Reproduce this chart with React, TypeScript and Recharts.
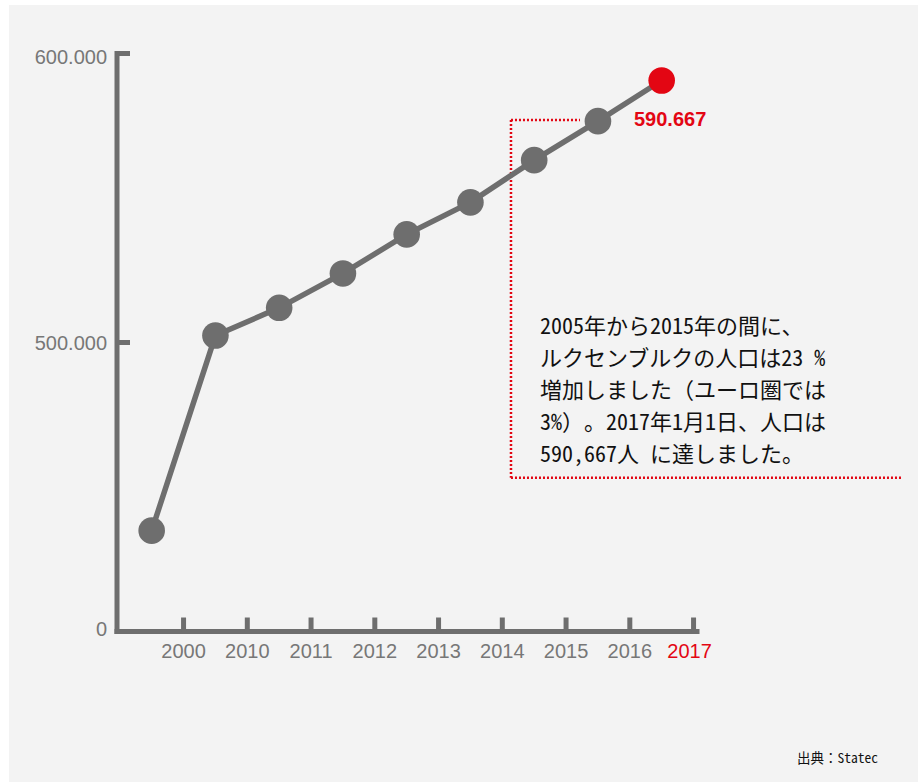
import { Line, LineChart, ReferenceLine, XAxis, YAxis } from "recharts";

// 人口（ルクセンブルク）、各年1月1日
const years = ["2000", "2010", "2011", "2012", "2013", "2014", "2015", "2016", "2017"];
const population = [434900, 502400, 512000, 523900, 537400, 548500, 563100, 576600, 590667];

// y axis is broken: the bottom tick is labelled 0
const yTicks = [400000, 500000, 600000];
const yTickLabels = ["0", "500.000", "600.000"];

// annotation frame (index units / population units)
const frameLeft = 5.636;
const frameTopY = 577000;
const frameTopRight = 6.718;
const frameBottomY = 453200;
const frameBottomRight = 11.77;

const note = [
  "2005年から2015年の間に、",
  "ルクセンブルクの人口は23 %",
  "増加しました（ユーロ圏では",
  "3%）。2017年1月1日、人口は",
  "590,667人 に達しました。",
];
const source = "出典：Statec";

const data = years.map((year, i) => ({ idx: i, year, population: population[i] }));
const xTicks = years.map((_, i) => i + 0.5);

const GRAY = "#6e6e6e";
const LABEL = "#777777";
const RED = "#e30613";
const FONT = "'Liberation Sans', Arial, sans-serif";

const fmt = (v: number) => v.toLocaleString("de-DE");

// ASCII runs get half-width (monospaced) forms, CJK stays full width
function Mono({ text }: { text: string }) {
  const parts = text.match(/[\x20-\x7e]+|[^\x20-\x7e]+/g) || [];
  return (
    <>
      {parts.map((p, i) =>
        /^[\x20-\x7e]/.test(p) ? (
          <span key={i} style={{ fontFeatureSettings: '"hwid"' }}>
            {p}
          </span>
        ) : (
          <span key={i}>{p}</span>
        )
      )}
    </>
  );
}

function XTick(props: any) {
  const { x, y, payload, index } = props;
  const label = years[index] ?? years[Math.round(payload.value - 0.5)];
  const last = label === years[years.length - 1];
  return (
    <g>
      <line x1={x} x2={x} y1={y - 14} y2={y} stroke={GRAY} strokeWidth={5} />
      <text
        x={last ? x - 4 : x}
        y={y + 26}
        textAnchor="middle"
        fontSize={20}
        fontFamily={FONT}
        fill={last ? RED : LABEL}
      >
        {label}
      </text>
    </g>
  );
}

const yLabelShift = [4.5, 7.5, 10.5];

function YTick(props: any) {
  const { x, y, payload } = props;
  const i = yTicks.indexOf(payload.value);
  return (
    <g>
      {i > 0 && <line x1={x} x2={x + 13} y1={y} y2={y} stroke={GRAY} strokeWidth={5} />}
      <text
        x={x - 10}
        y={y + yLabelShift[i]}
        textAnchor="end"
        fontSize={20}
        fontFamily={FONT}
        fill={LABEL}
      >
        {yTickLabels[i]}
      </text>
    </g>
  );
}

function Dot(props: any) {
  const { cx, cy, index, payload } = props;
  const last = index === data.length - 1;
  return (
    <g key={`dot-${index}`}>
      <circle cx={cx} cy={cy} r={13.3} fill={last ? RED : GRAY} />
      {last && (
        <text
          x={cx - 27.7}
          y={cy + 46}
          fontSize={20}
          fontWeight="bold"
          fontFamily={FONT}
          fill={RED}
        >
          {fmt(payload.population)}
        </text>
      )}
    </g>
  );
}

const dotted = { stroke: RED, strokeWidth: 2.5, strokeDasharray: "2 2" };

export default function App() {
  return (
    <div style={{ position: "absolute", left: 0, top: 0, width: 919, height: 782 }}>
      <div
        style={{
          position: "absolute",
          left: 9,
          top: 5,
          width: 909,
          height: 777,
          background: "#f3f3f3",
        }}
      />
      <div style={{ position: "absolute", left: 0, top: 0 }}>
        <LineChart
          width={919}
          height={782}
          data={data}
          margin={{ top: 53.5, right: 222, left: 57, bottom: 120.5 }}
        >
          <XAxis
            dataKey="idx"
            type="number"
            domain={[-0.544, 8.554]}
            ticks={xTicks}
            interval={0}
            height={30}
            tickSize={0}
            tickMargin={0}
            tickLine={false}
            axisLine={{ stroke: GRAY, strokeWidth: 5, strokeLinecap: "square" }}
            tick={<XTick />}
          />
          <YAxis
            type="number"
            domain={[400000, 600000]}
            ticks={yTicks}
            interval={0}
            width={60}
            tickSize={0}
            tickMargin={0}
            tickLine={false}
            axisLine={{ stroke: GRAY, strokeWidth: 5, strokeLinecap: "square" }}
            tick={<YTick />}
          />
          <ReferenceLine
            ifOverflow="visible"
            segment={[
              { x: frameLeft, y: frameTopY },
              { x: frameTopRight, y: frameTopY },
            ]}
            {...dotted}
          />
          <ReferenceLine
            ifOverflow="visible"
            segment={[
              { x: frameLeft, y: frameTopY },
              { x: frameLeft, y: frameBottomY },
            ]}
            {...dotted}
          />
          <ReferenceLine
            ifOverflow="visible"
            segment={[
              { x: frameLeft, y: frameBottomY },
              { x: frameBottomRight, y: frameBottomY },
            ]}
            {...dotted}
          />
          <Line
            type="linear"
            dataKey="population"
            stroke={GRAY}
            strokeWidth={5.5}
            dot={Dot}
            activeDot={false}
            isAnimationActive={false}
          />
        </LineChart>
      </div>
      <div
        style={
          {
            position: "absolute",
            left: 540,
            top: 308,
            fontFamily: "'Noto Sans CJK JP', sans-serif",
            fontSize: 22,
            lineHeight: "32px",
            color: "#111",
            whiteSpace: "pre",
            textSpacingTrim: "space-all",
          } as any
        }
      >
        {note.map((line) => (
          <div key={line}>
            <Mono text={line} />
          </div>
        ))}
      </div>
      <div
        style={
          {
            position: "absolute",
            left: 797,
            top: 747,
            fontFamily: "'Noto Sans CJK JP', monospace",
            fontSize: 13.5,
            lineHeight: "20px",
            color: "#111",
            whiteSpace: "pre",
            textSpacingTrim: "space-all",
          } as any
        }
      >
        <Mono text={source} />
      </div>
    </div>
  );
}
